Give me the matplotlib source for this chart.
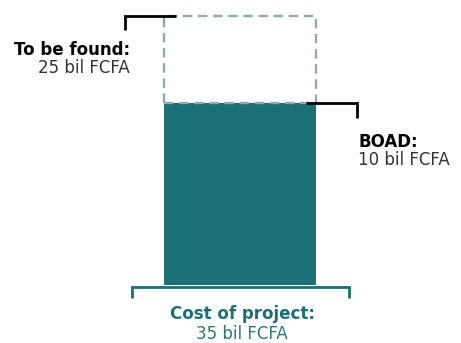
import matplotlib
matplotlib.use("Agg")
import matplotlib.pyplot as plt

# Data
segments = ["BOAD", "To be found"]
amounts_bil = [10, 25]            # values written in labels
bar_heights = [23.7, 11.3]        # drawn segment heights
total_label = 35
category = ["Project"]

TEAL = "#1b6f75"
DASH = "#8faab1"
plt.rcParams['font.family'] = ['DejaVu Sans']

W, H = 461, 343
fig = plt.figure(figsize=(W / 100, H / 100), dpi=100)
ax = fig.add_axes([0, 0, 1, 1])
px_per_unit = 269 / sum(bar_heights)
y_base_px = 285
ax.set_xlim(0, W)
ax.set_ylim(-(H - y_base_px) / px_per_unit, y_base_px / px_per_unit)
ax.axis("off")

def dy(px):
    return px / px_per_unit

xc, bw = 240, 152
bottom_h, top_h = bar_heights
ax.bar(xc, bottom_h, width=bw, color=TEAL, linewidth=0)
ax.bar(xc, top_h, width=bw, bottom=bottom_h, facecolor="none", edgecolor=DASH,
       linewidth=1.7, linestyle=(0, (4.0, 2.4)))

total = bottom_h + top_h
left = xc - bw / 2
right = xc + bw / 2
FS = 12
REG = "#333333"

# top-left bracket
ax.plot([125, 125, left + 12], [total - dy(14), total, total], color="black", lw=2,
        solid_capstyle="butt", solid_joinstyle="miter")
ax.text(130, total - dy(39), "To be found:", ha="right", va="baseline",
        fontsize=FS, fontweight="bold", color="black")
ax.text(130, total - dy(57), f"{amounts_bil[1]} bil FCFA", ha="right", va="baseline",
        fontsize=FS, color=REG)

# right bracket
ax.plot([right - 10, 357, 357], [bottom_h, bottom_h, bottom_h - dy(15)], color="black",
        lw=2, solid_capstyle="butt", solid_joinstyle="miter")
ax.text(358, bottom_h - dy(44), "BOAD:", ha="left", va="baseline",
        fontsize=FS, fontweight="bold", color="black")
ax.text(358, bottom_h - dy(62), f"{amounts_bil[0]} bil FCFA", ha="left", va="baseline",
        fontsize=FS, color=REG)

# bottom bracket
yb = -dy(2)
ax.plot([132, 132, 349, 349], [yb - dy(11), yb, yb, yb - dy(11)], color=TEAL, lw=2,
        solid_capstyle="butt", solid_joinstyle="miter")
ax.text(xc + 2, -dy(34), "Cost of project:", ha="center", va="baseline",
        fontsize=FS, fontweight="bold", color=TEAL)
ax.text(xc + 2, -dy(54), f"{total_label} bil FCFA", ha="center", va="baseline",
        fontsize=FS, color="#2a787d")

fig.savefig("out.png", dpi=100)
